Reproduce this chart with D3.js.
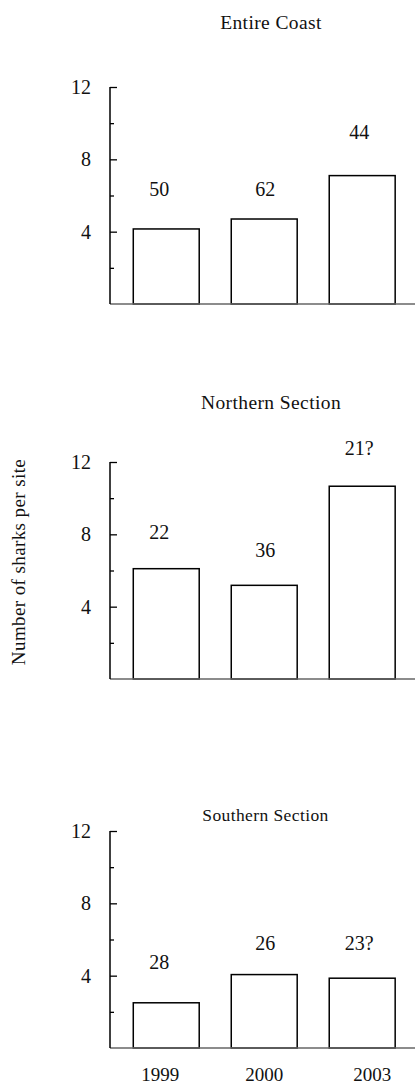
<!DOCTYPE html>
<html><head><meta charset="utf-8">
<script src="https://cdn.jsdelivr.net/npm/d3@7/dist/d3.min.js"></script>
<style>body{margin:0;background:#fff}svg{display:block}</style>
</head><body>
<script>
// ---- data ----
const years = ["1999", "2000", "2003"];
const panelTitles = ["Entire Coast", "Northern Section", "Southern Section"];
const entireCoast = [4.15, 4.7, 7.1];
const northernSection = [6.1, 5.18, 10.66];
const southernSection = [2.5, 4.06, 3.86];
const entireCoastN = ["50", "62", "44"];
const northernN = ["22", "36", "21?"];
const southernN = ["28", "26", "23?"];
// height (in y units) at which each sample-size label sits
const entireCoastNAt = [6.36, 6.36, 9.53];
const northernNAt = [8.15, 7.13, 12.79];
const southernNAt = [4.76, 5.78, 5.78];
const yMajorTicks = [4, 8, 12];
const yMinorTicks = [2, 6, 10];
const yLabel = "Number of sharks per site";

// ---- layout ----
const W = 415, H = 1086;
const FONT = "'Liberation Serif','Times New Roman',serif";
const panels = [
  {title: panelTitles[0], values: entireCoast, n: entireCoastN, nAt: entireCoastNAt,
   top: 87, base: 304, titleY: 29, titleX: 271, titleSize: 19.5},
  {title: panelTitles[1], values: northernSection, n: northernN, nAt: northernNAt,
   top: 462, base: 679, titleY: 408.5, titleX: 271, titleSize: 19.5},
  {title: panelTitles[2], values: southernSection, n: southernN, nAt: southernNAt,
   top: 831, base: 1048, titleY: 821, titleX: 265.5, titleSize: 17.5}
];
const labelShift = [-7, 1, -3];
const yearShift = [-6, 0, 10];
const NUM_SIZE = 20;

const svg = d3.select("body").append("svg")
  .attr("width", W).attr("height", H)
  .style("font-family", FONT);

const x = d3.scaleBand().domain(years)
  .range([110, 415]).paddingInner(0.327).paddingOuter(0.22).align(0.54);

panels.forEach((p, pi) => {
  const y = d3.scaleLinear().domain([0, 12]).range([p.base, p.top]);
  const g = svg.append("g");

  // bars
  g.selectAll("rect.bar").data(p.values).join("rect")
    .attr("class", "bar")
    .attr("x", (d, i) => x(years[i]))
    .attr("width", x.bandwidth())
    .attr("y", d => y(d))
    .attr("height", d => y(0) - y(d))
    .attr("fill", "#fff").attr("stroke", "#000").attr("stroke-width", 1.5);

  // baseline (x axis line)
  g.append("line")
    .attr("x1", 110).attr("x2", W)
    .attr("y1", y(0)).attr("y2", y(0))
    .attr("stroke", "#666").attr("stroke-width", 1.5);

  // y axis with inward ticks
  const axis = d3.axisRight(y).tickValues(yMajorTicks).tickSize(7).tickFormat("");
  const ag = g.append("g").attr("transform", "translate(110,0)").call(axis);
  ag.select(".domain").attr("stroke", "#000").attr("stroke-width", 1.5)
    .attr("d", `M0,${y(12)}V${y(0)}`);
  ag.selectAll(".tick line").attr("stroke", "#000").attr("stroke-width", 1.3);
  const minor = d3.axisRight(y).tickValues(yMinorTicks).tickSize(4).tickFormat("");
  const mg = g.append("g").attr("transform", "translate(110,0)").call(minor);
  mg.select(".domain").remove();
  mg.selectAll(".tick line").attr("stroke", "#000").attr("stroke-width", 1.3);

  // tick labels
  g.selectAll("text.yt").data(yMajorTicks).join("text")
    .attr("class", "yt")
    .attr("x", 91).attr("y", d => y(d)).attr("dy", "0.35em")
    .attr("text-anchor", "end").attr("font-size", NUM_SIZE).attr("fill", "#111")
    .text(d => d);

  // sample-size labels
  g.selectAll("text.n").data(p.n).join("text")
    .attr("class", "n")
    .attr("x", (d, i) => x(years[i]) + x.bandwidth() / 2 + labelShift[i])
    .attr("y", (d, i) => y(p.nAt[i])).attr("dy", "0.35em")
    .attr("text-anchor", "middle").attr("font-size", NUM_SIZE).attr("fill", "#111")
    .text(d => d);

  // title
  g.append("text")
    .attr("x", p.titleX).attr("y", p.titleY)
    .attr("text-anchor", "middle").attr("font-size", p.titleSize)
    .attr("letter-spacing", 0.4).attr("fill", "#111")
    .text(p.title);

  // year labels only under the last panel
  if (pi === panels.length - 1) {
    g.selectAll("text.yr").data(years).join("text")
      .attr("class", "yr")
      .attr("x", (d, i) => x(d) + x.bandwidth() / 2 + yearShift[i])
      .attr("y", 1080.5)
      .attr("text-anchor", "middle").attr("font-size", 19).attr("fill", "#111")
      .text(d => d);
  }
});

// y axis title
svg.append("text")
  .attr("transform", "translate(18,562) rotate(-90)")
  .attr("dy", "0.35em")
  .attr("text-anchor", "middle").attr("font-size", 19)
  .attr("letter-spacing", 0.4).attr("fill", "#111")
  .text(yLabel);
</script>
</body></html>
